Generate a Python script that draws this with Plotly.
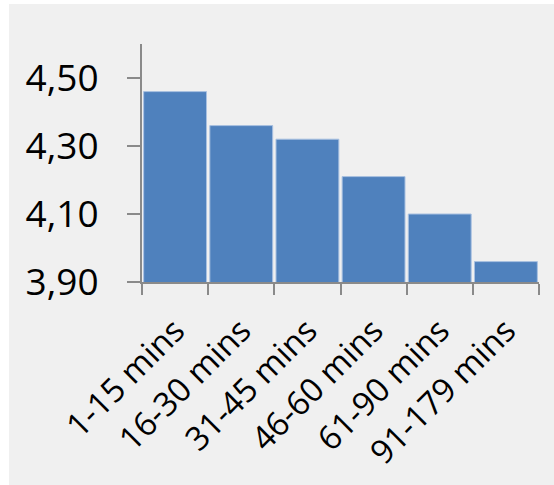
import plotly.graph_objects as go

categories = ["1-15 mins", "16-30 mins", "31-45 mins", "46-60 mins", "61-90 mins", "91-179 mins"]
values = [4.46, 4.36, 4.32, 4.21, 4.10, 3.96]
ytick_vals = [3.9, 4.1, 4.3, 4.5]

W, H = 554, 485
ML, MR, MT, MB = 142, 15, 44, 203
PW, PH = W - ML - MR, H - MT - MB

def px_x(p):
    return (p - ML) / PW

def px_y(p):
    return 1 - (p - MT) / PH

fig = go.Figure(go.Bar(
    x=categories, y=values,
    marker=dict(color="#4f81bd", line=dict(color="#a9c1e1", width=1)),
))

axis_color = "#8a8a8a"
fig.update_layout(
    width=W, height=H,
    margin=dict(l=ML, r=MR, t=MT, b=MB),
    paper_bgcolor="#f0f0f0",
    plot_bgcolor="#f0f0f0",
    separators=",.",
    bargap=0.05,
    showlegend=False,
    font=dict(family="Open Sans", color="#000000"),
    xaxis=dict(
        type="category",
        tickson="boundaries",
        ticks="outside", ticklen=11, tickwidth=2, tickcolor=axis_color,
        showline=True, linecolor=axis_color, linewidth=2,
        showgrid=False, tickangle=-45,
        tickfont=dict(size=33),
        ticklabelstandoff=14,
        range=[-0.5, 5.5],
    ),
    yaxis=dict(
        range=[3.9, 4.6],
        tickvals=ytick_vals, tickformat=".2f",
        ticks="outside", ticklen=13, tickwidth=2, tickcolor=axis_color,
        showline=True, linecolor=axis_color, linewidth=2,
        showgrid=False, zeroline=False,
        tickfont=dict(size=37),
        ticklabelstandoff=21,
    ),
    shapes=[
        dict(type="rect", xref="paper", yref="paper", layer="below",
             x0=px_x(0), x1=px_x(9), y0=px_y(H), y1=px_y(0),
             fillcolor="#ffffff", line=dict(width=0)),
        dict(type="rect", xref="paper", yref="paper", layer="below",
             x0=px_x(0), x1=px_x(W), y0=px_y(4), y1=px_y(0),
             fillcolor="#ffffff", line=dict(width=0)),
    ],
)

fig.write_html("out.html")
